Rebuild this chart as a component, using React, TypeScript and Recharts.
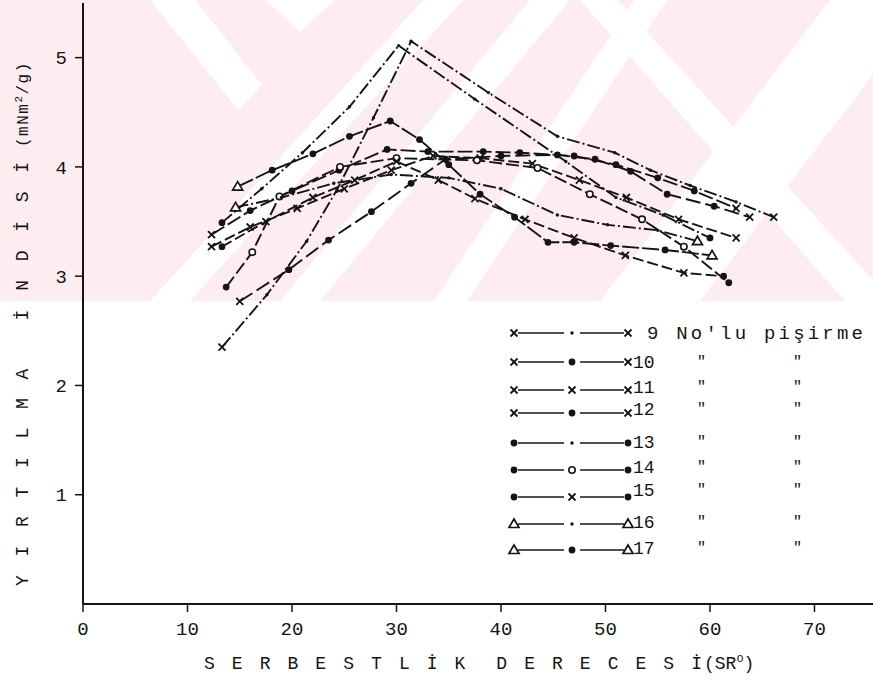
import React from "react";
import { LineChart, Line, XAxis, YAxis, Legend } from "recharts";

// Tear index vs. freeness, cooks no. 9-17.
const xTicks = [0, 10, 20, 30, 40, 50, 60, 70];
const yTicks = [1, 2, 3, 4, 5];

const cook9 = [[13.3, 2.35], [17.6, 2.83], [21.4, 3.32], [24.3, 3.79], [27.8, 4.45], [31.4, 5.15], [38.8, 4.68], [45.4, 4.28], [50.9, 4.13], [54.3, 3.97], [58.1, 3.83], [62.5, 3.68], [66.1, 3.54]];
const cook10 = [[12.3, 3.38], [16, 3.6], [20, 3.78], [24.5, 3.97], [29.1, 4.16], [33, 4.14], [38.3, 4.14], [41.8, 4.13], [47, 4.1], [51, 4.02], [55, 3.9], [58.5, 3.78], [62.5, 3.62]];
const cook11 = [[12.3, 3.27], [16, 3.45], [20.5, 3.62], [25, 3.8], [29.5, 3.97], [33.5, 4.1], [38, 4.08], [43, 4.03], [47.5, 3.88], [52, 3.72], [57, 3.52], [62.5, 3.35]];
const cook12 = [[15, 2.77], [19.7, 3.06], [23.5, 3.33], [27.6, 3.59], [31.4, 3.85], [34.7, 4.07], [40, 4.1], [45.4, 4.11], [49, 4.07], [52.4, 3.96], [55.9, 3.75], [60.4, 3.64], [63.8, 3.54]];
const cook13 = [[13.3, 3.49], [17.1, 3.8], [21, 4.13], [25.5, 4.55], [30.2, 5.11], [37.5, 4.62], [46.2, 4.05], [51, 3.72], [55.5, 3.56], [60, 3.35]];
const cook14 = [[13.7, 2.9], [16.2, 3.22], [18.8, 3.73], [24.6, 4.0], [30, 4.08], [37.7, 4.06], [43.5, 3.99], [48.5, 3.75], [53.5, 3.52], [57.5, 3.27], [61.8, 2.94]];
const cook15 = [[13.3, 3.27], [17.5, 3.5], [22, 3.72], [26, 3.88], [30, 4.05], [34, 3.88], [37.5, 3.71], [42.3, 3.52], [47, 3.35], [51.9, 3.19], [57.5, 3.03], [61.3, 3.0]];
const cook16 = [[14.6, 3.63], [19, 3.72], [24, 3.85], [29.5, 3.93], [35, 3.9], [40, 3.8], [45.4, 3.56], [50.2, 3.47], [55, 3.42], [58.8, 3.32]];
const cook17 = [[14.8, 3.82], [18.1, 3.97], [22, 4.12], [25.5, 4.28], [29.4, 4.42], [32.2, 4.25], [35, 4.02], [38, 3.75], [41.3, 3.54], [44.5, 3.31], [47, 3.31], [50.5, 3.28], [55.7, 3.24], [60.2, 3.19]];

type Kind = "x" | "dot" | "small" | "o" | "tri";

const SERIES: { name: string; data: number[][]; end: Kind; mid: Kind; dash: string }[] = [
  { name: "9", data: cook9, end: "x", mid: "small", dash: "13 3 2 3" },
  { name: "10", data: cook10, end: "x", mid: "dot", dash: "15 4" },
  { name: "11", data: cook11, end: "x", mid: "x", dash: "11 4" },
  { name: "12", data: cook12, end: "x", mid: "dot", dash: "15 5" },
  { name: "13", data: cook13, end: "dot", mid: "small", dash: "13 3 2 3" },
  { name: "14", data: cook14, end: "dot", mid: "o", dash: "13 4" },
  { name: "15", data: cook15, end: "dot", mid: "x", dash: "11 4" },
  { name: "16", data: cook16, end: "tri", mid: "small", dash: "13 3 2 3" },
  { name: "17", data: cook17, end: "tri", mid: "dot", dash: "17 3" },
];

const INK = "#141414";
const MONO = "'Liberation Mono', 'DejaVu Sans Mono', monospace";

function Mark({ cx, cy, kind }: { cx?: number; cy?: number; kind: Kind }) {
  if (cx == null || cy == null) return null;
  switch (kind) {
    case "x":
      return (
        <g>
          <line x1={cx - 3.5} y1={cy - 3.5} x2={cx + 3.5} y2={cy + 3.5} stroke={INK} strokeWidth={1.8} />
          <line x1={cx - 3.5} y1={cy + 3.5} x2={cx + 3.5} y2={cy - 3.5} stroke={INK} strokeWidth={1.8} />
        </g>
      );
    case "dot":
      return <circle cx={cx} cy={cy} r={3.4} fill={INK} />;
    case "small":
      return <circle cx={cx} cy={cy} r={1.7} fill={INK} />;
    case "o":
      return <circle cx={cx} cy={cy} r={3.2} fill="#fff" stroke={INK} strokeWidth={1.6} />;
    case "tri":
      return (
        <polygon
          points={`${cx},${cy - 5} ${cx - 5},${cy + 3.5} ${cx + 5},${cy + 3.5}`}
          fill="#fff"
          stroke={INK}
          strokeWidth={1.7}
        />
      );
  }
  return null;
}

// legend rows (page coords)
const sampleY = [333, 362, 390, 413, 443, 470, 497, 524, 550];
const labelY = [333, 362, 387, 409, 442, 467, 490, 522, 548];
const LX = 500;
const LY = 310;

function CookLegend() {
  return (
    <svg width={373} height={260} style={{ overflow: "visible" }}>
      {SERIES.map((s, i) => {
        const y = sampleY[i] - LY;
        const ty = labelY[i] - LY;
        return (
          <g key={s.name}>
            <line x1={518 - LX} y1={y} x2={564 - LX} y2={y} stroke={INK} strokeWidth={1.5} />
            <line x1={580 - LX} y1={y} x2={624 - LX} y2={y} stroke={INK} strokeWidth={1.5} />
            <Mark cx={514 - LX} cy={y} kind={s.end} />
            <Mark cx={572 - LX} cy={y} kind={s.mid} />
            <Mark cx={628 - LX} cy={y} kind={s.end} />
            {i === 0 ? (
              <text
                x={647 - LX}
                y={ty + 6}
                fontSize={19}
                fontFamily={MONO}
                fill={INK}
                textLength={216}
                lengthAdjust="spacing"
              >
                9 No'lu pişirme
              </text>
            ) : (
              <g fontFamily={MONO} fill={INK}>
                <text x={633 - LX} y={ty + 6} fontSize={18}>{s.name}</text>
                <text x={697 - LX} y={ty + 4} fontSize={15}>"</text>
                <text x={793 - LX} y={ty + 4} fontSize={15}>"</text>
              </g>
            )}
          </g>
        );
      })}
    </svg>
  );
}

function YTitle() {
  return (
    <g fontFamily={MONO} fontSize={18} fill={INK}>
      <text transform="rotate(-90)" x={-586} y={28} textLength={424} lengthAdjust="spacing">
        {"Y I R T I L M A\u00A0\u00A0\u00A0İ N D İ S İ"}
      </text>
      <text transform="rotate(-90)" x={-147} y={28} fontSize={16} letterSpacing={1.5}>
        (mNm
        <tspan fontSize={11} dy={-6}>2</tspan>
        <tspan dy={6}>/g)</tspan>
      </text>
    </g>
  );
}

function XTitle() {
  return (
    <g fontFamily={MONO} fontSize={18} fill={INK}>
      <text x={204} y={669} textLength={498} lengthAdjust="spacing">
        {"S E R B E S T L İ K\u00A0\u00A0D E R E C E S İ"}
      </text>
      <text x={704} y={669}>
        (SR
        <tspan fontSize={12} dy={-7}>o</tspan>
        <tspan dy={7}>)</tspan>
      </text>
    </g>
  );
}

function Watermark() {
  const pink = "#fdedf0";
  return (
    <svg width={873} height={683} style={{ position: "absolute", left: 0, top: 0 }}>
      <defs>
        <clipPath id="wm">
          <rect x={0} y={0} width={873} height={301} />
        </clipPath>
      </defs>
      <g clipPath="url(#wm)">
        <rect x={0} y={0} width={873} height={301} fill={pink} />
        <polygon points="150,0 195,0 262,85 238,110" fill="#fff" />
        <polygon points="265,0 335,0 300,32" fill="#fff" />
        <polygon points="423,0 463,0 190,301 150,301" fill="#fff" />
        <polygon points="530,0 570,0 320,301 280,301" fill="#fff" />
        <polygon points="634,0 667,0 467,301 434,301" fill="#fff" />
        <polygon points="830,0 930,0 700,301 600,301" fill="#fff" />
        <polygon points="580,0 618,0 873,280 873,301 845,301" fill="#fff" />
      </g>
    </svg>
  );
}

export default function App() {
  return (
    <div style={{ position: "absolute", left: 0, top: 0, width: 873, height: 683, background: "#fff" }}>
      <Watermark />
      <div style={{ position: "absolute", left: 0, top: 0 }}>
        <LineChart width={873} height={683} margin={{ top: 3, right: 0, bottom: 0, left: 0 }}>
          <XAxis
            dataKey="x"
            type="number"
            domain={[0, 75.6]}
            ticks={xTicks}
            height={79}
            axisLine={{ stroke: INK, strokeWidth: 2 }}
            tickLine={{ stroke: INK, strokeWidth: 1.5 }}
            tickSize={8}
            tickMargin={10}
            tick={{ fill: INK, fontSize: 19, fontFamily: MONO }}
            label={<XTitle />}
          />
          <YAxis
            type="number"
            domain={[0, 5.5]}
            ticks={yTicks}
            width={83}
            axisLine={{ stroke: INK, strokeWidth: 2 }}
            tickLine={{ stroke: INK, strokeWidth: 1.5 }}
            tickSize={8}
            tickMargin={8}
            tick={{ fill: INK, fontSize: 19, fontFamily: MONO }}
            label={<YTitle />}
          />
          <Legend
            layout="horizontal"
            verticalAlign="middle"
            align="center"
            wrapperStyle={{ position: "absolute", left: LX, top: LY, width: 373, height: 260 }}
            content={() => <CookLegend />}
          />
          {SERIES.map((s) => (
            <Line
              key={s.name}
              name={s.name}
              data={s.data.map(([x, y]) => ({ x, y }))}
              dataKey="y"
              stroke={INK}
              strokeWidth={1.9}
              strokeDasharray={s.dash}
              isAnimationActive={false}
              activeDot={false}
              dot={(p: any) => (
                <g key={`${s.name}-${p.index}`}>
                  <Mark cx={p.cx} cy={p.cy} kind={p.index === 0 || p.index === s.data.length - 1 ? s.end : s.mid} />
                </g>
              )}
            />
          ))}
        </LineChart>
      </div>
    </div>
  );
}
